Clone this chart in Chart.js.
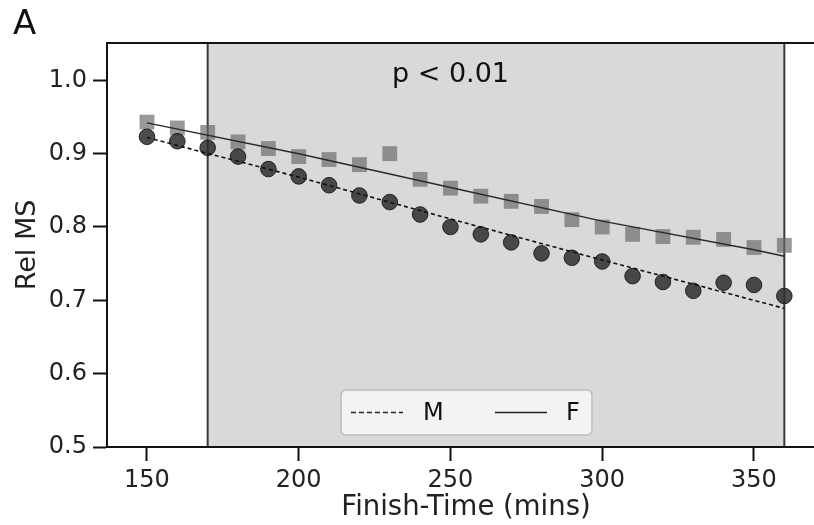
<!DOCTYPE html>
<html>
<head>
<meta charset="utf-8">
<script src="https://cdn.jsdelivr.net/npm/chart.js@4"></script>
<style>
html,body{margin:0;padding:0;background:#fff;overflow:hidden;}
#wrap{width:814px;height:525px;overflow:hidden;position:relative;}
#c{position:absolute;left:0;top:0;}
</style>
</head>
<body>
<div id="wrap"><canvas id="c" width="825" height="525"></canvas></div>
<script>
// ---- data ----
const finishTimes = [150,160,170,180,190,200,210,220,230,240,250,260,270,280,290,300,310,320,330,340,350,360];
const maleRelMS   = [0.923,0.917,0.908,0.896,0.879,0.869,0.857,0.843,0.834,0.817,0.800,0.790,0.779,0.764,0.758,0.753,0.733,0.725,0.713,0.724,0.721,0.706];
const femaleRelMS = [0.943,0.935,0.929,0.916,0.907,0.896,0.892,0.885,0.900,0.865,0.853,0.842,0.835,0.828,0.810,0.800,0.790,0.787,0.786,0.783,0.772,0.775];
const fitTimes    = [150,200,250,300,350,360];
const maleFit     = [0.922,0.868,0.811,0.755,0.700,0.689];
const femaleFit   = [0.942,0.900,0.854,0.808,0.769,0.760];
const seriesNames = ['M','F'];
const xTicks = [150,200,250,300,350];
const yTicks = [0.5,0.6,0.7,0.8,0.9,1.0];
const yTickLabels = ['0.5','0.6','0.7','0.8','0.9','1.0'];
const shadeRange = [170,360];
const panelLabel = 'A';
const pText = 'p < 0.01';
const xTitle = 'Finish-Time (mins)';
const yTitle = 'Rel MS';

const FONT = "'DejaVu Sans', sans-serif";
const pts = (xs, ys) => xs.map((x,i)=>({x:x,y:ys[i]}));

const decor = {
  id:'decor',
  beforeDraw(chart){
    const {ctx, chartArea:a, scales:{x}} = chart;
    ctx.save();
    ctx.fillStyle = '#fff';
    ctx.fillRect(0,0,chart.width,chart.height);
    const x0 = x.getPixelForValue(shadeRange[0]);
    const x1 = x.getPixelForValue(shadeRange[1]);
    ctx.fillStyle = '#d9d9d9';
    ctx.fillRect(x0, a.top, x1-x0, a.bottom-a.top);
    ctx.strokeStyle = '#3a3a3a';
    ctx.lineWidth = 2;
    ctx.beginPath();
    ctx.moveTo(x0, a.top); ctx.lineTo(x0, a.bottom);
    ctx.moveTo(x1, a.top); ctx.lineTo(x1, a.bottom);
    ctx.stroke();
    ctx.restore();
  },
  afterDraw(chart){
    const {ctx, chartArea:a, scales:{x,y}} = chart;
    ctx.save();
    // top spine
    ctx.strokeStyle = '#111';
    ctx.lineWidth = 2;
    ctx.beginPath();
    ctx.moveTo(a.left-1, a.top); ctx.lineTo(a.right, a.top);
    ctx.stroke();
    // panel label
    ctx.fillStyle = '#111';
    ctx.font = '34px ' + FONT;
    ctx.textAlign = 'left';
    ctx.textBaseline = 'alphabetic';
    ctx.fillText(panelLabel, 13, 34);
    // p text
    ctx.font = '27px ' + FONT;
    ctx.textAlign = 'center';
    ctx.fillText(pText, x.getPixelForValue(250), 82);
    // legend box
    const bx = 341, by = 390, bw = 251, bh = 45, r = 5;
    ctx.beginPath();
    ctx.moveTo(bx+r, by);
    ctx.arcTo(bx+bw, by, bx+bw, by+bh, r);
    ctx.arcTo(bx+bw, by+bh, bx, by+bh, r);
    ctx.arcTo(bx, by+bh, bx, by, r);
    ctx.arcTo(bx, by, bx+bw, by, r);
    ctx.closePath();
    ctx.fillStyle = 'rgba(245,245,245,0.9)';
    ctx.fill();
    ctx.strokeStyle = '#bdbdbd';
    ctx.lineWidth = 1.5;
    ctx.stroke();
    const ly = by + bh/2;
    ctx.strokeStyle = '#222';
    ctx.lineWidth = 1.6;
    ctx.setLineDash([5,3]);
    ctx.beginPath(); ctx.moveTo(351, ly); ctx.lineTo(403, ly); ctx.stroke();
    ctx.setLineDash([]);
    ctx.beginPath(); ctx.moveTo(495, ly); ctx.lineTo(547, ly); ctx.stroke();
    ctx.fillStyle = '#111';
    ctx.font = '24px ' + FONT;
    ctx.textAlign = 'left';
    ctx.textBaseline = 'middle';
    ctx.fillText(seriesNames[0], 423, ly+1);
    ctx.fillText(seriesNames[1], 566, ly+1);
    ctx.restore();
  }
};

new Chart(document.getElementById('c'), {
  type: 'scatter',
  data: {
    datasets: [
      { label: seriesNames[1]+' data', data: pts(finishTimes, femaleRelMS), pointStyle:'rect', pointRadius:10.5,
        backgroundColor:'rgba(105,105,105,0.68)', borderColor:'rgba(105,105,105,0.68)', borderWidth:0, order:4 },
      { label: seriesNames[0]+' data', data: pts(finishTimes, maleRelMS), pointStyle:'circle', pointRadius:7.8,
        backgroundColor:'rgba(45,45,45,0.85)', borderColor:'rgba(25,25,25,0.9)', borderWidth:1, order:3 },
      { type:'line', label: seriesNames[1], data: pts(fitTimes, femaleFit), showLine:true, pointRadius:0,
        borderColor:'#2a2a2a', borderWidth:1.5, fill:false, order:2 },
      { type:'line', label: seriesNames[0], data: pts(fitTimes, maleFit), showLine:true, pointRadius:0,
        borderColor:'#111', borderWidth:1.6, borderDash:[4,3], fill:false, order:1 }
    ]
  },
  options: {
    responsive:false,
    animation:false,
    devicePixelRatio:1,
    layout:{ autoPadding:false, padding:{ top:43, right:0, left:0, bottom:0 } },
    plugins:{ legend:{display:false}, tooltip:{enabled:false}, title:{display:false} },
    scales:{
      x:{
        type:'linear', min:136.83, max:373.4,
        afterBuildTicks(s){ s.ticks = xTicks.map(v=>({value:v})); },
        afterFit(s){ s.height = 78; s.paddingRight = 0; s.paddingLeft = 0; },
        grid:{ drawOnChartArea:false, drawTicks:true, tickLength:14, tickColor:'#111', tickWidth:2 },
        border:{ display:true, color:'#111', width:2 },
        ticks:{ color:'#222', font:{family:FONT, size:24}, padding:5, maxRotation:0, autoSkip:false,
                callback:(v)=>String(v) },
        title:{ display:true, text:xTitle, color:'#222', font:{family:FONT, size:27.5}, padding:{top:0,bottom:1} }
      },
      y:{
        type:'linear', min:0.5, max:1.0509,
        afterBuildTicks(s){ s.ticks = yTicks.map(v=>({value:v})); },
        afterFit(s){ s.width = 107; s.paddingTop = 0; s.paddingBottom = 0; },
        grid:{ drawOnChartArea:false, drawTicks:true, tickLength:14, tickColor:'#111', tickWidth:2 },
        border:{ display:true, color:'#111', width:2 },
        ticks:{ color:'#222', font:{family:FONT, size:24}, padding:6, autoSkip:false,
                callback:(v)=>{ const i = yTicks.findIndex(t=>Math.abs(t-v)<1e-9); return i>=0 ? yTickLabels[i] : ''; } },
        title:{ display:true, text:yTitle, color:'#222', font:{family:FONT, size:27}, padding:{top:12,bottom:0} }
      }
    }
  },
  plugins:[decor]
});
</script>
</body>
</html>
